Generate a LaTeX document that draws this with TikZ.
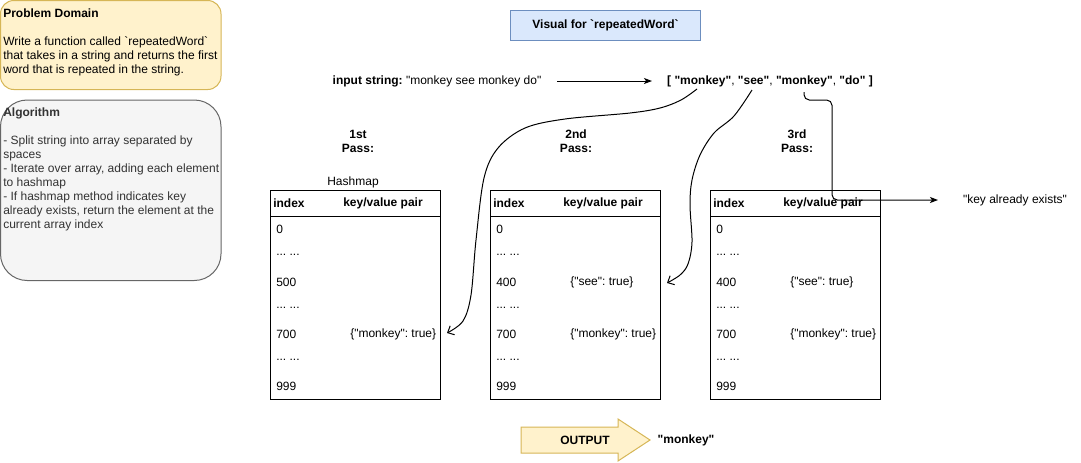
\documentclass[tikz,border=0pt]{standalone}
\usepackage{fontspec}
\setmainfont{Liberation Sans}[Ligatures=TeXOff]
\usetikzlibrary{arrows.meta}
\definecolor{ylwfill}{HTML}{FFF2CC}
\definecolor{ylwline}{HTML}{D6B656}
\definecolor{gryfill}{HTML}{F5F5F5}
\definecolor{gryline}{HTML}{666666}
\definecolor{blufill}{HTML}{DAE8FC}
\definecolor{bluline}{HTML}{6C8EBF}
\definecolor{gtxt}{HTML}{333333}
\tikzset{
  lbl/.style={font=\fontsize{9}{10.5}\selectfont, inner sep=0pt},
  blbl/.style={lbl, font=\fontsize{9}{10.5}\selectfont\bfseries},
  tbox/.style={draw=black, line width=0.75pt, anchor=north west, minimum width=127.5pt, minimum height=156.75pt, inner sep=0pt},
  solidarrow/.style={line width=0.75pt, -{Stealth[length=6pt,width=4.5pt,inset=1.5pt]}},
  openarrow/.style={line width=0.75pt, -{Straight Barb[length=4pt,width=7.5pt]}},
}
\newcommand{\hashtbl}[3]{%
  \node[tbox] (#2) at (#1,190) {};
  \draw[line width=0.75pt] ([yshift=-19.5pt]#2.north west) -- ([yshift=-19.5pt]#2.north east);
  \node[blbl, anchor=west] (#2h1) at (#1+3,203) {index};
  \node[blbl] (#2h2) at (#1+113,203) {key/value pair};
  \node[lbl, anchor=west] (#2r0) at (#1+6,229) {0};
  \node[lbl, anchor=west] (#2r1) at (#1+6,255) {... ...};
  \node[lbl, anchor=west] (#2r2) at (#1+6,282) {#3};
  \node[lbl, anchor=west] (#2r3) at (#1+6,308) {... ...};
  \node[lbl, anchor=west] (#2r4) at (#1+6,334) {700};
  \node[lbl, anchor=west] (#2r5) at (#1+6,360) {... ...};
  \node[lbl, anchor=west] (#2r6) at (#1+6,386) {999};
}
\begin{document}
\frenchspacing
\begin{tikzpicture}[x=0.75pt,y=-0.75pt]
\useasboundingbox (0,0) rectangle (1081,462);

% Problem domain
\draw[draw=ylwline, fill=ylwfill, line width=0.75pt, rounded corners=10pt] (0.5,0.5) rectangle (221,89.5);
\node[lbl, anchor=north west, align=left] (pd) at (3,9) {\textbf{Problem Domain}\\[10.5pt]Write a function called \textasciigrave repeatedWord\textasciigrave\\that takes in a string and returns the first\\word that is repeated in the string.};

% Algorithm
\draw[draw=gryline, fill=gryfill, line width=0.75pt, rounded corners=20pt] (0.5,100) rectangle (221,280.5);
\node[lbl, anchor=north west, align=left, text=gtxt] (alg) at (3,108) {\textbf{Algorithm}\\[10.5pt]- Split string into array separated by\\spaces\\- Iterate over array, adding each element\\to hashmap\\- If hashmap method indicates key\\already exists, return the element at the\\current array index};

% Title
\node[draw=bluline, fill=blufill, line width=0.75pt, minimum width=143pt, minimum height=22pt, font=\fontsize{9}{10.5}\selectfont\bfseries] (title) at (605.5,25.5) {Visual for \textasciigrave repeatedWord\textasciigrave};

% input
\node[lbl] (inp) at (437,81) {\textbf{input string:} "monkey see monkey do"};
\node[lbl] (arr) at (770,81) {\textbf{[ "monkey"}, \textbf{"see"}, \textbf{"monkey"}, \textbf{"do" ]}};
\coordinate (ia) at (557,81);
\coordinate (ib) at (652,81);
\draw[solidarrow] (ia) -- (ib);

% pass labels
\node[blbl, align=center] (p1) at (358,141) {1st\\Pass:};
\node[blbl, align=center] (p2) at (576,141) {2nd\\Pass:};
\node[blbl, align=center] (p3) at (797,141) {3rd\\Pass:};
\node[lbl] (hm) at (353,182) {Hashmap};

% tables
\hashtbl{270}{ta}{500}
\hashtbl{490}{tb}{400}
\hashtbl{710}{tc}{400}
\node[lbl, anchor=west] (tav) at (350,334) {\{"monkey": true\}};
\node[lbl, anchor=west] (tbs) at (570,282) {\{"see": true\}};
\node[lbl, anchor=west] (tbv) at (570,334) {\{"monkey": true\}};
\node[lbl, anchor=west] (tcs) at (790,282) {\{"see": true\}};
\node[lbl, anchor=west] (tcv) at (790,334) {\{"monkey": true\}};

% curved connectors
\coordinate (s1) at (697,89);
\coordinate (e1) at (447,333);
\draw[openarrow] plot[smooth, tension=0.55] coordinates {(s1) (681,100) (660,108) (630,113) (565,119) (525,128) (498,148) (484,178) (476,240) (471,295) (463,321) (e1)};
\coordinate (s2) at (752,90);
\coordinate (e2) at (667,283);
\draw[openarrow] plot[smooth, tension=0.55] coordinates {(s2) (734,116) (714,133) (700,155) (692,180) (690,205) (692,242) (688,264) (680,275) (e2)};

% third connector
\coordinate (s3) at (804,92);
\coordinate (e3) at (938,200);
\node[lbl] (kae) at (1015,200) {"key already exists"};
\draw[solidarrow, rounded corners=4pt] (s3) -- (804,100) -- (832,100) -- (832,200) -- (e3);

% output
\draw[draw=ylwline, fill=ylwfill, line width=0.75pt] (521,427) -- (618,427) -- (618,419) -- (650,440) -- (618,461) -- (618,453) -- (521,453) -- cycle;
\node[blbl] (outl) at (585,440) {OUTPUT};
\node[blbl] (outv) at (686,440) {"monkey"};
\end{tikzpicture}
\end{document}
